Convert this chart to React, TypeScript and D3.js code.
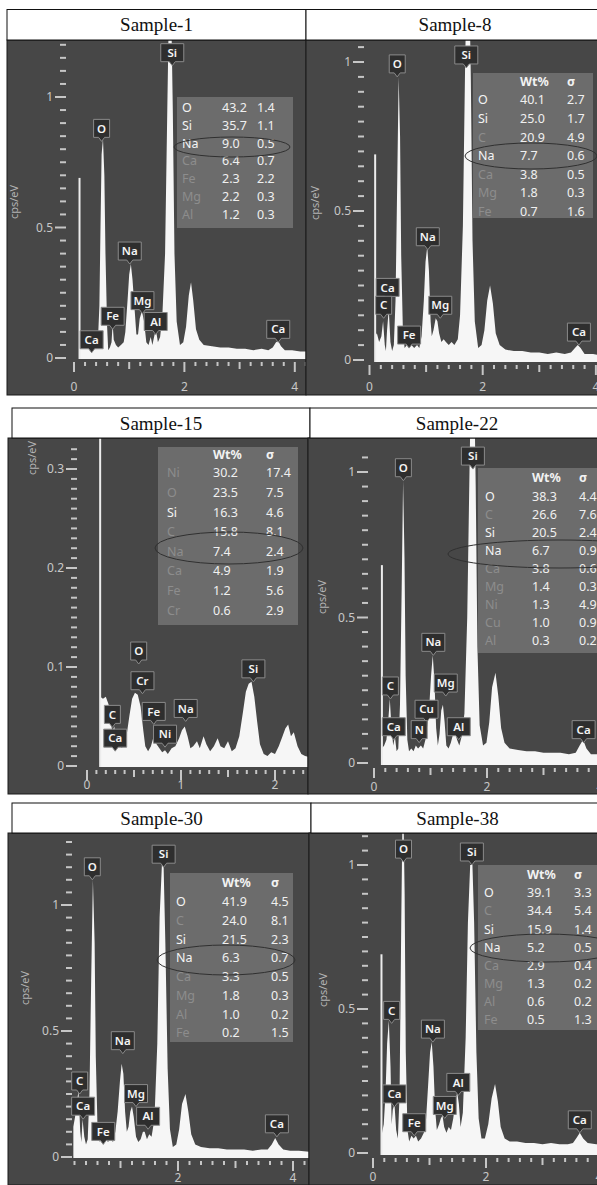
import React from "react"
import * as d3 from "d3"

type Pt = [number, number]
type Peak = { el: string; e: number; v: number }

// ---- spectra (keV, cps/eV) ----
const sample1Spectrum: Pt[] = [
  [0.1, 0.04], [0.14, 0.05], [0.18, 0.04], [0.22, 0.06], [0.26, 0.09], [0.29, 0.05], [0.33, 0.08], [0.37, 0.04],
  [0.41, 0.05], [0.44, 0.1], [0.46, 0.2], [0.48, 0.5], [0.5, 0.78], [0.525, 0.84], [0.55, 0.7], [0.57, 0.4],
  [0.6, 0.12], [0.62, 0.03], [0.65, 0.04], [0.68, 0.06], [0.7, 0.13], [0.72, 0.07], [0.76, 0.05], [0.8, 0.04],
  [0.85, 0.05], [0.9, 0.06], [0.93, 0.1], [0.97, 0.22], [1.0, 0.32], [1.03, 0.36], [1.06, 0.3], [1.1, 0.18],
  [1.13, 0.09], [1.16, 0.09], [1.19, 0.15], [1.23, 0.18], [1.27, 0.14], [1.31, 0.06], [1.35, 0.05], [1.39, 0.08],
  [1.42, 0.05], [1.46, 0.09], [1.49, 0.1], [1.52, 0.06], [1.56, 0.08], [1.6, 0.16], [1.65, 0.4], [1.69, 0.95],
  [1.72, 1.35], [1.76, 1.35], [1.79, 0.95], [1.82, 0.4], [1.86, 0.14], [1.92, 0.05], [1.98, 0.06], [2.03, 0.12],
  [2.08, 0.24], [2.12, 0.29], [2.16, 0.22], [2.21, 0.11], [2.27, 0.07], [2.35, 0.05], [2.5, 0.045], [2.65, 0.04],
  [2.8, 0.04], [2.95, 0.035], [3.1, 0.035], [3.25, 0.03], [3.4, 0.035], [3.52, 0.03], [3.6, 0.04], [3.66, 0.06],
  [3.7, 0.065], [3.75, 0.045], [3.82, 0.03], [3.95, 0.03], [4.1, 0.025], [4.3, 0.025],
]
const sample8Spectrum: Pt[] = [
  [0.1, 0.08], [0.13, 0.09], [0.17, 0.06], [0.21, 0.08], [0.24, 0.13], [0.27, 0.05], [0.29, 0.03], [0.31, 0.1],
  [0.34, 0.17], [0.37, 0.06], [0.4, 0.03], [0.43, 0.05], [0.46, 0.2], [0.49, 0.6], [0.515, 0.95], [0.54, 0.75],
  [0.56, 0.35], [0.59, 0.1], [0.62, 0.04], [0.66, 0.05], [0.7, 0.04], [0.74, 0.05], [0.79, 0.04], [0.84, 0.05],
  [0.88, 0.04], [0.92, 0.08], [0.96, 0.2], [0.99, 0.33], [1.02, 0.38], [1.05, 0.3], [1.08, 0.13], [1.1, 0.08],
  [1.13, 0.1], [1.17, 0.14], [1.2, 0.13], [1.23, 0.09], [1.27, 0.06], [1.31, 0.07], [1.35, 0.06], [1.4, 0.05],
  [1.45, 0.06], [1.5, 0.05], [1.56, 0.07], [1.6, 0.15], [1.65, 0.45], [1.69, 1.0], [1.72, 1.3], [1.76, 1.3],
  [1.79, 0.95], [1.82, 0.4], [1.86, 0.13], [1.92, 0.04], [1.98, 0.05], [2.03, 0.1], [2.08, 0.2], [2.13, 0.25],
  [2.18, 0.19], [2.23, 0.09], [2.3, 0.05], [2.4, 0.035], [2.55, 0.03], [2.7, 0.03], [2.85, 0.025], [3.0, 0.025],
  [3.15, 0.02], [3.3, 0.025], [3.45, 0.02], [3.56, 0.025], [3.63, 0.04], [3.68, 0.05], [3.73, 0.04], [3.8, 0.02],
  [3.95, 0.02], [4.1, 0.015], [4.3, 0.015],
]
const sample15Spectrum: Pt[] = [
  [0.14, 0.07], [0.17, 0.068], [0.2, 0.07], [0.23, 0.062], [0.25, 0.045], [0.27, 0.035], [0.29, 0.04], [0.31, 0.028],
  [0.33, 0.02], [0.35, 0.025], [0.37, 0.018], [0.39, 0.022], [0.42, 0.03], [0.45, 0.05], [0.48, 0.068], [0.51, 0.074],
  [0.54, 0.072], [0.57, 0.06], [0.6, 0.035], [0.62, 0.02], [0.65, 0.015], [0.68, 0.02], [0.71, 0.03], [0.74, 0.022],
  [0.77, 0.018], [0.8, 0.014], [0.83, 0.016], [0.86, 0.012], [0.9, 0.018], [0.94, 0.02], [0.98, 0.028], [1.01, 0.036],
  [1.04, 0.04], [1.07, 0.03], [1.1, 0.018], [1.13, 0.02], [1.17, 0.025], [1.2, 0.018], [1.24, 0.03], [1.27, 0.022],
  [1.31, 0.015], [1.35, 0.02], [1.39, 0.028], [1.42, 0.02], [1.46, 0.018], [1.5, 0.025], [1.54, 0.015], [1.58, 0.018],
  [1.62, 0.03], [1.66, 0.055], [1.69, 0.075], [1.72, 0.083], [1.75, 0.085], [1.78, 0.07], [1.81, 0.045], [1.84, 0.022],
  [1.88, 0.012], [1.92, 0.01], [1.96, 0.014], [2.0, 0.012], [2.04, 0.02], [2.08, 0.03], [2.11, 0.038], [2.14, 0.042],
  [2.17, 0.03], [2.2, 0.034], [2.24, 0.02], [2.28, 0.012], [2.32, 0.01], [2.4, 0.008],
]
const sample22Spectrum: Pt[] = [
  [0.14, 0.05], [0.18, 0.06], [0.22, 0.08], [0.25, 0.14], [0.28, 0.22], [0.31, 0.12], [0.34, 0.06], [0.37, 0.09],
  [0.4, 0.04], [0.43, 0.05], [0.46, 0.2], [0.49, 0.6], [0.515, 0.97], [0.54, 0.7], [0.56, 0.3], [0.59, 0.08],
  [0.62, 0.04], [0.66, 0.05], [0.7, 0.04], [0.74, 0.06], [0.78, 0.05], [0.83, 0.06], [0.87, 0.05], [0.91, 0.08],
  [0.95, 0.14], [0.98, 0.2], [1.01, 0.3], [1.04, 0.37], [1.07, 0.28], [1.1, 0.12], [1.13, 0.06], [1.16, 0.1],
  [1.19, 0.18], [1.22, 0.2], [1.25, 0.14], [1.28, 0.06], [1.32, 0.05], [1.36, 0.07], [1.4, 0.1], [1.43, 0.11],
  [1.47, 0.08], [1.51, 0.06], [1.55, 0.09], [1.6, 0.17], [1.65, 0.5], [1.69, 1.0], [1.72, 1.35], [1.77, 1.35],
  [1.8, 0.95], [1.83, 0.4], [1.87, 0.13], [1.93, 0.06], [1.99, 0.07], [2.04, 0.14], [2.09, 0.26], [2.15, 0.31],
  [2.2, 0.23], [2.25, 0.12], [2.31, 0.07], [2.4, 0.05], [2.55, 0.045], [2.7, 0.04], [2.85, 0.04], [3.0, 0.035],
  [3.15, 0.035], [3.3, 0.035], [3.45, 0.03], [3.57, 0.035], [3.64, 0.06], [3.7, 0.08], [3.76, 0.05], [3.84, 0.03],
  [4.0, 0.03], [4.15, 0.025], [4.3, 0.025],
]
const sample30Spectrum: Pt[] = [
  [0.18, 0.12], [0.21, 0.16], [0.24, 0.22], [0.27, 0.26], [0.3, 0.1], [0.32, 0.06], [0.34, 0.15], [0.37, 0.08],
  [0.4, 0.05], [0.43, 0.07], [0.46, 0.25], [0.49, 0.7], [0.52, 1.1], [0.55, 0.85], [0.57, 0.4], [0.6, 0.12],
  [0.63, 0.06], [0.67, 0.08], [0.7, 0.06], [0.74, 0.08], [0.78, 0.06], [0.83, 0.07], [0.87, 0.06], [0.91, 0.1],
  [0.95, 0.18], [0.99, 0.3], [1.02, 0.37], [1.05, 0.33], [1.08, 0.18], [1.11, 0.1], [1.14, 0.12], [1.17, 0.18],
  [1.2, 0.2], [1.23, 0.16], [1.27, 0.08], [1.31, 0.06], [1.35, 0.07], [1.39, 0.1], [1.42, 0.1], [1.46, 0.07],
  [1.5, 0.09], [1.54, 0.08], [1.59, 0.15], [1.64, 0.45], [1.68, 0.95], [1.72, 1.16], [1.75, 1.15], [1.78, 0.85],
  [1.82, 0.35], [1.86, 0.11], [1.91, 0.04], [1.97, 0.05], [2.02, 0.11], [2.07, 0.21], [2.13, 0.25], [2.18, 0.18],
  [2.23, 0.09], [2.3, 0.05], [2.4, 0.04], [2.55, 0.035], [2.7, 0.035], [2.85, 0.03], [3.0, 0.03], [3.15, 0.03],
  [3.3, 0.025], [3.45, 0.03], [3.56, 0.03], [3.63, 0.05], [3.69, 0.075], [3.75, 0.05], [3.83, 0.03], [3.95, 0.025],
  [4.1, 0.025], [4.3, 0.02],
]
const sample38Spectrum: Pt[] = [
  [0.15, 0.06], [0.19, 0.1], [0.22, 0.2], [0.25, 0.38], [0.28, 0.46], [0.31, 0.3], [0.33, 0.1], [0.35, 0.15],
  [0.38, 0.17], [0.41, 0.08], [0.44, 0.05], [0.47, 0.2], [0.5, 0.8], [0.53, 1.3], [0.56, 0.9], [0.58, 0.35],
  [0.61, 0.08], [0.64, 0.04], [0.68, 0.06], [0.72, 0.05], [0.76, 0.06], [0.8, 0.04], [0.85, 0.05], [0.9, 0.07],
  [0.94, 0.12], [0.98, 0.25], [1.01, 0.35], [1.04, 0.385], [1.07, 0.3], [1.1, 0.15], [1.13, 0.08], [1.17, 0.1],
  [1.2, 0.12], [1.23, 0.13], [1.26, 0.09], [1.3, 0.07], [1.34, 0.09], [1.38, 0.08], [1.42, 0.12], [1.46, 0.18],
  [1.49, 0.21], [1.52, 0.17], [1.55, 0.09], [1.59, 0.14], [1.64, 0.4], [1.68, 0.8], [1.72, 1.0], [1.76, 1.0],
  [1.79, 0.8], [1.83, 0.35], [1.87, 0.12], [1.92, 0.05], [1.98, 0.05], [2.04, 0.1], [2.1, 0.19], [2.16, 0.24],
  [2.21, 0.18], [2.26, 0.09], [2.33, 0.05], [2.42, 0.04], [2.55, 0.04], [2.7, 0.035], [2.85, 0.035], [3.0, 0.03],
  [3.15, 0.035], [3.3, 0.03], [3.45, 0.03], [3.54, 0.035], [3.61, 0.055], [3.66, 0.07], [3.72, 0.05], [3.8, 0.035],
  [3.95, 0.03], [4.1, 0.03], [4.3, 0.025],
]

// zero-energy strobe line [keV, height]
const sample1Strobe: Pt = [0.1, 0.69]
const sample8Strobe: Pt = [0.1, 0.69]
const sample15Strobe: Pt = [0.14, 0.4]
const sample22Strobe: Pt = [0.14, 0.68]
const sample38Strobe: Pt = [0.15, 0.69]

// ---- peak labels ----
const sample1Peaks: Peak[] = [
  { el: "Si", e: 1.78, v: 1.12 }, { el: "O", e: 0.5, v: 0.83 }, { el: "Na", e: 1.01, v: 0.36 },
  { el: "Fe", e: 0.7, v: 0.11 }, { el: "Mg", e: 1.24, v: 0.17 }, { el: "Al", e: 1.48, v: 0.09 },
  { el: "Ca", e: 0.32, v: 0.02 }, { el: "Ca", e: 3.7, v: 0.06 },
]
const sample8Peaks: Peak[] = [
  { el: "O", e: 0.49, v: 0.95 }, { el: "Si", e: 1.71, v: 0.98 }, { el: "Na", e: 1.03, v: 0.37 },
  { el: "Ca", e: 0.32, v: 0.2 }, { el: "C", e: 0.25, v: 0.14 }, { el: "Mg", e: 1.25, v: 0.14 },
  { el: "Fe", e: 0.7, v: 0.04 }, { el: "Ca", e: 3.7, v: 0.05 },
]
const sample15Peaks: Peak[] = [
  { el: "O", e: 0.55, v: 0.103 }, { el: "Cr", e: 0.59, v: 0.073 }, { el: "C", e: 0.27, v: 0.039 },
  { el: "Ca", e: 0.3, v: 0.015 }, { el: "Fe", e: 0.71, v: 0.042 }, { el: "Na", e: 1.05, v: 0.045 },
  { el: "Ni", e: 0.83, v: 0.019 }, { el: "Si", e: 1.77, v: 0.085 },
]
const sample22Peaks: Peak[] = [
  { el: "Si", e: 1.75, v: 1.01 }, { el: "O", e: 0.52, v: 0.97 }, { el: "Na", e: 1.05, v: 0.37 },
  { el: "C", e: 0.29, v: 0.22 }, { el: "Mg", e: 1.27, v: 0.23 }, { el: "Cu", e: 0.93, v: 0.14 },
  { el: "Ca", e: 0.35, v: 0.08 }, { el: "N", e: 0.8, v: 0.07 }, { el: "Al", e: 1.5, v: 0.08 },
  { el: "Ca", e: 3.71, v: 0.07 },
]
const sample30Peaks: Peak[] = [
  { el: "O", e: 0.51, v: 1.1 }, { el: "Si", e: 1.75, v: 1.15 }, { el: "Na", e: 1.04, v: 0.41 },
  { el: "C", e: 0.29, v: 0.25 }, { el: "Ca", e: 0.35, v: 0.15 }, { el: "Mg", e: 1.27, v: 0.2 },
  { el: "Al", e: 1.48, v: 0.11 }, { el: "Fe", e: 0.7, v: 0.05 }, { el: "Ca", e: 3.72, v: 0.08 },
]
const sample38Peaks: Peak[] = [
  { el: "O", e: 0.54, v: 1.01 }, { el: "Si", e: 1.75, v: 1.0 }, { el: "C", e: 0.33, v: 0.45 },
  { el: "Na", e: 1.06, v: 0.385 }, { el: "Al", e: 1.51, v: 0.2 }, { el: "Ca", e: 0.38, v: 0.16 },
  { el: "Mg", e: 1.27, v: 0.12 }, { el: "Fe", e: 0.73, v: 0.06 }, { el: "Ca", e: 3.66, v: 0.07 },
]

// ---- quantification tables: element, Wt%, sigma ----
const sample1Rows = [["O", "43.2", "1.4"], ["Si", "35.7", "1.1"], ["Na", "9.0", "0.5"], ["Ca", "6.4", "0.7"], ["Fe", "2.3", "2.2"], ["Mg", "2.2", "0.3"], ["Al", "1.2", "0.3"]]
const sample8Rows = [["O", "40.1", "2.7"], ["Si", "25.0", "1.7"], ["C", "20.9", "4.9"], ["Na", "7.7", "0.6"], ["Ca", "3.8", "0.5"], ["Mg", "1.8", "0.3"], ["Fe", "0.7", "1.6"]]
const sample15Rows = [["Ni", "30.2", "17.4"], ["O", "23.5", "7.5"], ["Si", "16.3", "4.6"], ["C", "15.8", "8.1"], ["Na", "7.4", "2.4"], ["Ca", "4.9", "1.9"], ["Fe", "1.2", "5.6"], ["Cr", "0.6", "2.9"]]
const sample22Rows = [["O", "38.3", "4.4"], ["C", "26.6", "7.6"], ["Si", "20.5", "2.4"], ["Na", "6.7", "0.9"], ["Ca", "3.8", "0.6"], ["Mg", "1.4", "0.3"], ["Ni", "1.3", "4.9"], ["Cu", "1.0", "0.9"], ["Al", "0.3", "0.2"]]
const sample30Rows = [["O", "41.9", "4.5"], ["C", "24.0", "8.1"], ["Si", "21.5", "2.3"], ["Na", "6.3", "0.7"], ["Ca", "3.3", "0.5"], ["Mg", "1.8", "0.3"], ["Al", "1.0", "0.2"], ["Fe", "0.2", "1.5"]]
const sample38Rows = [["O", "39.1", "3.3"], ["C", "34.4", "5.4"], ["Si", "15.9", "1.4"], ["Na", "5.2", "0.5"], ["Ca", "2.9", "0.4"], ["Mg", "1.3", "0.2"], ["Al", "0.6", "0.2"], ["Fe", "0.5", "1.3"]]

const brightDefault = ["O", "Si", "Na"]
const bright15 = ["Si"]

const sampleTitles = ["Sample-1", "Sample-8", "Sample-15", "Sample-22", "Sample-30", "Sample-38"]

// ---- layout of each cell (pixels) ----
const panels = [
  {
    title: sampleTitles[0], spectrum: sample1Spectrum, strobe: sample1Strobe, peaks: sample1Peaks, rows: sample1Rows, bright: brightDefault, header: false,
    cell: [7, 9.5, 299, 30.5], box: [7, 40, 299, 355],
    xa: { px0: 74, k: 55.2, start: 0, end: 4.3, step: 0.2, mid: 1, big: 2, base: 359, labelY: 391 },
    ya: { px0: 358, k: 261, max: 1.2, minor: 0.05, major: 0.5, right: 66 },
    cps: [14, 202],
    table: { x: 177, y: 97, w: 116, h: 131, headY: 0, rowY: 108, dy: 17.7, cEl: 182, cVal: 222, cSig: 257 },
    ellipse: [232, 147, 58, 10],
  },
  {
    title: sampleTitles[1], spectrum: sample8Spectrum, strobe: sample8Strobe, peaks: sample8Peaks, rows: sample8Rows, bright: brightDefault, header: true,
    cell: [306, 9.5, 298, 30.5], box: [306, 40, 298, 355],
    xa: { px0: 369.5, k: 56.6, start: 0, end: 4.3, step: 0.2, mid: 1, big: 2, base: 362, labelY: 391 },
    ya: { px0: 360, k: 298, max: 1.05, minor: 0.05, major: 0.5, right: 364 },
    cps: [315, 203],
    table: { x: 473, y: 73, w: 120, h: 145, headY: 82, rowY: 100, dy: 18.6, cEl: 478, cVal: 520, cSig: 567 },
    ellipse: [531, 156, 66, 13],
  },
  {
    title: sampleTitles[2], spectrum: sample15Spectrum, strobe: sample15Strobe, peaks: sample15Peaks, rows: sample15Rows, bright: bright15, header: true,
    cell: [12, 408, 298, 30], box: [8, 438, 300, 356],
    xa: { px0: 87, k: 94, start: 0, end: 2.4, step: 0.1, mid: 0.5, big: 1, base: 767, labelY: 789 },
    ya: { px0: 766, k: 990, max: 0.325, minor: 0.01, major: 0.1, right: 77 },
    cps: [32, 458],
    table: { x: 158, y: 447, w: 140, h: 178, headY: 455, rowY: 473, dy: 19.6, cEl: 167, cVal: 213, cSig: 266 },
    ellipse: [229, 548, 74, 16],
  },
  {
    title: sampleTitles[3], spectrum: sample22Spectrum, strobe: sample22Strobe, peaks: sample22Peaks, rows: sample22Rows, bright: brightDefault, header: true,
    cell: [310, 408, 294, 30], box: [308, 438, 296, 356],
    xa: { px0: 374, k: 56.5, start: 0, end: 4.3, step: 0.2, mid: 1, big: 2, base: 765, labelY: 791 },
    ya: { px0: 763, k: 291, max: 1.08, minor: 0.05, major: 0.5, right: 368 },
    cps: [322, 597],
    table: { x: 478, y: 468, w: 125, h: 185, headY: 478, rowY: 497, dy: 18, cEl: 485, cVal: 532, cSig: 579 },
    ellipse: [560, 554, 112, 14],
  },
  {
    title: sampleTitles[4], spectrum: sample30Spectrum, strobe: null, peaks: sample30Peaks, rows: sample30Rows, bright: brightDefault, header: true,
    cell: [12, 803, 299, 30], box: [8, 833, 301, 352],
    xa: { px0: 63, k: 57.5, start: 0.2, end: 4.3, step: 0.2, mid: 1, big: 2, base: 1158, labelY: 1182 },
    ya: { px0: 1157, k: 252, max: 1.25, minor: 0.05, major: 0.5, right: 72 },
    cps: [25, 988],
    table: { x: 170, y: 873, w: 123, h: 169, headY: 883, rowY: 902, dy: 18.7, cEl: 176, cVal: 222, cSig: 271 },
    ellipse: [226, 960, 69, 15],
  },
  {
    title: sampleTitles[5], spectrum: sample38Spectrum, strobe: sample38Strobe, peaks: sample38Peaks, rows: sample38Rows, bright: brightDefault, header: true,
    cell: [311, 803, 293, 30], box: [309, 833, 295, 352],
    xa: { px0: 373, k: 56.5, start: 0, end: 4.3, step: 0.2, mid: 1, big: 2, base: 1155, labelY: 1181 },
    ya: { px0: 1153, k: 288, max: 1.1, minor: 0.05, major: 0.5, right: 368 },
    cps: [323, 990],
    table: { x: 478, y: 865, w: 125, h: 165, headY: 875, rowY: 893, dy: 18.1, cEl: 484, cVal: 527, cSig: 574 },
    ellipse: [545, 948, 75, 14],
  },
]

const SANS = "'Noto Sans', 'Open Sans', sans-serif"
const BG = "#474747"
const TICK = "#c6c6c6"

const isMult = (v: number, m: number) => Math.abs(Math.round(v / m) * m - v) < 1e-6

function Panel({ p, i }: { p: any; i: number }) {
  const [bx, by, bw, bh] = p.box
  const x = d3.scaleLinear().domain([0, 1]).range([p.xa.px0, p.xa.px0 + p.xa.k])
  const y = d3.scaleLinear().domain([0, 1]).range([p.ya.px0, p.ya.px0 - p.ya.k])
  const base = p.xa.base
  const area = d3
    .area<Pt>()
    .x((d) => x(d[0]))
    .y0(base)
    .y1((d) => y(d[1]))

  const yTicks = d3.range(0, p.ya.max + 1e-9, p.ya.minor).map((v) => +v.toFixed(3))
  const xTicks = d3.range(p.xa.start, p.xa.end + 1e-9, p.xa.step).map((v) => +v.toFixed(3)).filter((v) => x(v) < bx + bw)

  const t = p.table
  const clipId = `clip-${i}`
  return (
    <g>
      <defs>
        <clipPath id={clipId}>
          <rect x={bx} y={by} width={bw} height={bh} />
        </clipPath>
        <clipPath id={clipId + "-plot"}>
          <rect x={bx} y={by} width={bw} height={base - by} />
        </clipPath>
      </defs>
      <rect x={bx} y={by} width={bw} height={bh} fill={BG} />
      <g clipPath={`url(#${clipId})`}>
        {/* y axis */}
        {yTicks.map((v) => {
          const major = isMult(v, p.ya.major)
          return (
            <g key={"y" + v}>
              <line x1={p.ya.right - (major ? 11 : 6)} x2={p.ya.right} y1={y(v)} y2={y(v)} stroke={TICK} strokeWidth={2} />
              {major && (
                <text x={p.ya.right - 13} y={y(v)} dy="0.35em" textAnchor="end" fontSize={12} fontFamily={SANS} fill="#c8c8c8">
                  {String(v)}
                </text>
              )}
            </g>
          )
        })}
        <text transform={`translate(${p.cps[0]},${p.cps[1]}) rotate(-90)`} textAnchor="middle" dy="0.35em" fontSize={11} fontFamily={SANS} fill="#b4b4b4">
          cps/eV
        </text>
        {/* x axis */}
        {xTicks.map((v) => {
          const big = isMult(v, p.xa.big)
          const mid = isMult(v, p.xa.mid)
          const len = big ? 10 : mid ? 7 : 4
          return (
            <g key={"x" + v}>
              <line x1={x(v)} x2={x(v)} y1={base + 3} y2={base + 3 + len} stroke={TICK} strokeWidth={2} />
              {big && (
                <text x={x(v)} y={p.xa.labelY} textAnchor="middle" fontSize={12} fontFamily={SANS} fill="#c8c8c8">
                  {String(v)}
                </text>
              )}
            </g>
          )
        })}
        {/* spectrum */}
        <g clipPath={`url(#${clipId}-plot)`}>
          <path d={area(p.spectrum) || ""} fill="#f6f6f6" />
          {p.strobe && (
            <line x1={x(p.strobe[0])} x2={x(p.strobe[0])} y1={base} y2={y(p.strobe[1])} stroke="#ececec" strokeWidth={2} />
          )}
        </g>
        {/* quant table */}
        <rect x={t.x} y={t.y} width={t.w} height={t.h} fill="#6f6f6f" opacity={0.95} />
        {p.header && (
          <g fontFamily={SANS} fontSize={12.5} fontWeight={700} fill="#f2f2f2">
            <text x={t.cVal} y={t.headY} dy="0.35em">Wt%</text>
            <text x={t.cSig} y={t.headY} dy="0.35em">σ</text>
          </g>
        )}
        {p.rows.map((r: string[], k: number) => {
          const yy = t.rowY + k * t.dy
          const on = p.bright.includes(r[0])
          return (
            <g key={"r" + k} fontFamily={SANS} fontSize={12.5}>
              <text x={t.cEl} y={yy} dy="0.35em" fill={on ? "#f4f4f4" : "#8d8d8d"}>{r[0]}</text>
              <text x={t.cVal} y={yy} dy="0.35em" fill="#f0f0f0">{r[1]}</text>
              <text x={t.cSig} y={yy} dy="0.35em" fill="#f0f0f0">{r[2]}</text>
            </g>
          )
        })}
        <ellipse cx={p.ellipse[0]} cy={p.ellipse[1]} rx={p.ellipse[2]} ry={p.ellipse[3]} fill="none" stroke="#303030" strokeWidth={1} />
        {/* peak labels */}
        {p.peaks.map((pk: Peak, k: number) => {
          const cx = x(pk.e)
          const tip = y(pk.v)
          const w = pk.el.length > 1 ? 23 : 16
          const h = 18
          const b = tip - 4
          const l = cx - w / 2
          const r = cx + w / 2
          const d = `M${l},${b - h}H${r}V${b}H${cx + 3}L${cx},${tip}L${cx - 3},${b}H${l}Z`
          return (
            <g key={"p" + k}>
              <path d={d} fill="#2e2e2e" stroke="#8a8a8a" strokeWidth={1} />
              <text x={cx} y={b - h / 2} dy="0.36em" textAnchor="middle" fontSize={11.5} fontWeight={600} fontFamily={SANS} fill="#f4f4f4">
                {pk.el}
              </text>
            </g>
          )
        })}
      </g>
      <rect x={bx} y={by} width={bw} height={bh} fill="none" stroke="#1a1a1a" strokeWidth={1} />
      {/* title cell */}
      <rect x={p.cell[0]} y={p.cell[1]} width={p.cell[2]} height={p.cell[3]} fill="#fff" stroke="#111" strokeWidth={1} />
      <text
        x={p.cell[0] + p.cell[2] / 2}
        y={p.cell[1] + p.cell[3] / 2}
        dy="0.35em"
        textAnchor="middle"
        fontSize={19}
        fontFamily="'Liberation Serif', 'Times New Roman', serif"
        fill="#111"
      >
        {p.title}
      </text>
    </g>
  )
}

export default function App() {
  return (
    <div style={{ position: "absolute", left: 0, top: 0 }}>
      <svg width={597} height={1185} style={{ display: "block", background: "#fff" }}>
        {panels.map((p, i) => (
          <Panel key={i} p={p} i={i} />
        ))}
      </svg>
    </div>
  )
}
